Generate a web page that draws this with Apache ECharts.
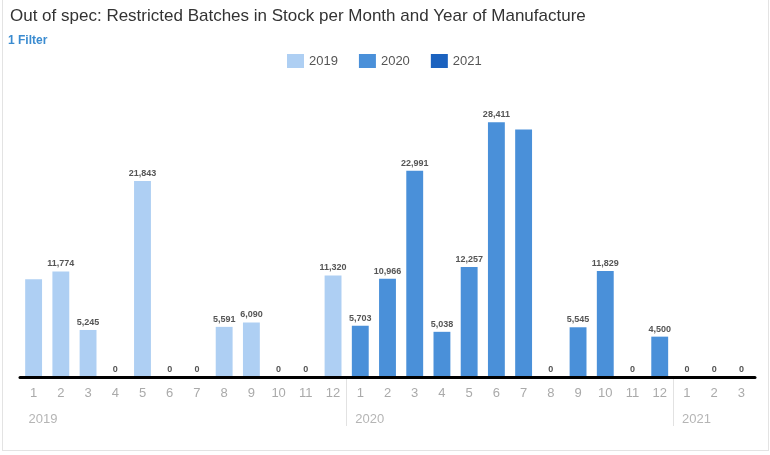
<!DOCTYPE html>
<html>
<head>
<meta charset="utf-8">
<script src="https://cdn.jsdelivr.net/npm/echarts@6/dist/echarts.min.js"></script>
<style>
html,body{margin:0;padding:0;background:#fff;overflow:hidden;}
#wrap{position:relative;width:770px;height:455px;overflow:hidden;}
#chart{position:absolute;left:0;top:0;width:800px;height:455px;}
#frame{position:absolute;left:2px;top:-2px;width:765px;height:451px;border:1px solid #e3e3e3;pointer-events:none;}
</style>
</head>
<body>
<div id="wrap"><div id="chart"></div><div id="frame"></div></div>
<script>
// ---- data ----
const months = ['1','2','3','4','5','6','7','8','9','10','11','12','1','2','3','4','5','6','7','8','9','10','11','12','1','2','3'];
const years  = ['2019','2019','2019','2019','2019','2019','2019','2019','2019','2019','2019','2019',
                '2020','2020','2020','2020','2020','2020','2020','2020','2020','2020','2020','2020',
                '2021','2021','2021'];
const seriesNames = ['2019','2020','2021'];
const values2019 = [10900, 11774, 5245, 0, 21843, 0, 0, 5591, 6090, 0, 0, 11320];
const values2020 = [5703, 10966, 22991, 5038, 12257, 28411, 27600, 0, 5545, 11829, 0, 4500];
const values2021 = [0, 0, 0];
const hiddenLabels = ['2019-1', '2020-7'];

// ---- build ----
const colors = ['#aecff3', '#4a90d9', '#1b62bf'];
const yearValues = {'2019': values2019, '2020': values2020, '2021': values2021};

function buildSeriesData(name) {
  const vals = yearValues[name];
  let k = 0;
  return years.map((y, i) => {
    if (y !== name) return '-';
    const v = vals[k++];
    const key = y + '-' + months[i];
    if (hiddenLabels.indexOf(key) >= 0) return {value: v, label: {show: false}};
    return v;
  });
}

const boundaryIdx = [];
years.forEach((y, i) => { if (i === 0 || years[i - 1] !== y) boundaryIdx.push(i); });

// the canvas is wider than the visible window; the year axis gets one extra empty
// slot so its closing boundary tick falls outside the visible area
const yearAxisData = years.concat(['']);
const W = 800, VIEW = 770, gridLeft = 20, gridRightVis = 15;
const gridRight = gridRightVis + (W - VIEW);
const band = (W - gridLeft - gridRight) / years.length;
const yearGridRight = W - gridLeft - band * yearAxisData.length;
const yearLabelShift = 5;

const chart = echarts.init(document.getElementById('chart'));
chart.setOption({
  animation: false,
  color: colors,
  textStyle: {fontFamily: 'Liberation Sans, Arial, sans-serif'},
  title: [
    {text: 'Out of spec: Restricted Batches in Stock per Month and Year of Manufacture',
     left: 10, top: 8, padding: 0, textStyle: {fontSize: 17, fontWeight: 'normal', color: '#333'}},
    {text: '1 Filter', left: 8, top: 35, padding: 0,
     textStyle: {fontSize: 12, fontWeight: 'bold', color: '#3a8bd0'}}
  ],
  legend: {
    data: seriesNames, left: 287, top: 54, padding: 0,
    itemWidth: 17, itemHeight: 14, itemGap: 21,
    icon: 'rect',
    textStyle: {fontSize: 13, color: '#555'}
  },
  grid: [
    {left: gridLeft, right: gridRight, top: 99, bottom: 78, containLabel: false},
    {left: gridLeft, right: yearGridRight, top: 99, bottom: 78, containLabel: false},
    {left: gridLeft - yearLabelShift, right: yearGridRight + yearLabelShift, top: 99, bottom: 78, containLabel: false}
  ],
  xAxis: [
    {type: 'category', data: months, position: 'bottom', gridIndex: 0, z: 5,
     axisLine: {lineStyle: {color: '#000', width: 3}},
     axisTick: {show: false},
     axisLabel: {color: '#aaa', fontSize: 13, margin: 10}},
    {type: 'category', data: yearAxisData, position: 'bottom', gridIndex: 1,
     axisLine: {show: false},
     axisTick: {show: true, length: 49, interval: (i) => boundaryIdx.indexOf(i) > 0,
                lineStyle: {color: '#e2e2e2'}},
     axisLabel: {show: false}},
    {type: 'category', data: yearAxisData, position: 'bottom', gridIndex: 2,
     axisLine: {show: false},
     axisTick: {show: false},
     axisLabel: {color: '#b5b5b5', fontSize: 13, margin: 36, align: 'left',
                 interval: (i) => boundaryIdx.indexOf(i) >= 0}}
  ],
  yAxis: [
    {type: 'value', min: 0, max: 31000, show: false, splitLine: {show: false}, gridIndex: 0},
    {type: 'value', min: 0, max: 31000, show: false, splitLine: {show: false}, gridIndex: 1},
    {type: 'value', min: 0, max: 31000, show: false, splitLine: {show: false}, gridIndex: 2}
  ],
  series: seriesNames.map((name) => ({
    name: name, type: 'bar', xAxisIndex: 0, yAxisIndex: 0,
    data: buildSeriesData(name),
    barWidth: '62%', barGap: '-100%',
    label: {show: true, position: 'top', distance: 3, fontSize: 9, color: '#555',
            fontWeight: 'bold',
            formatter: (p) => Number(p.value).toLocaleString('en-US')}
  }))
});
</script>
</body>
</html>
